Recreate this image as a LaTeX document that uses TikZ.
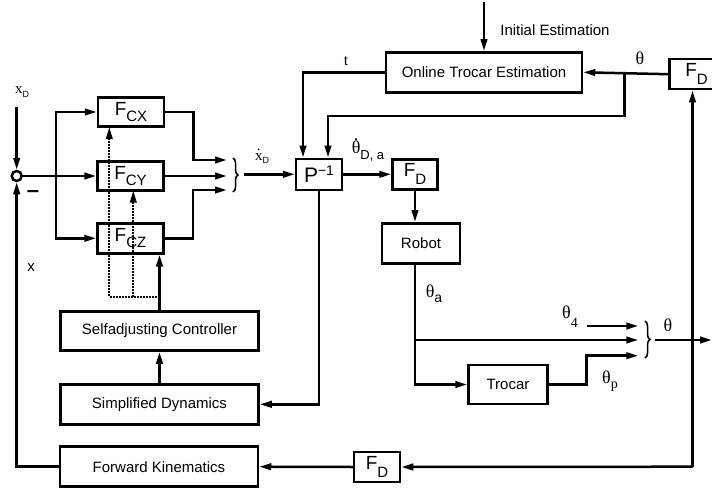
\documentclass[tikz,border=0pt]{standalone}
\usepackage{fontspec}
\setmainfont{Liberation Sans}
\setsansfont{Liberation Sans}
\newfontfamily\seriffont{Liberation Serif}
\usetikzlibrary{arrows.meta,decorations.pathreplacing}

% F with a lowered index, as used in the filter blocks
\newcommand{\Fblk}[2][-6pt]{{\fontsize{19}{19}\selectfont F}\raisebox{#1}{\fontsize{15}{15}\selectfont #2}}
% serif symbol with a lowered sans index
\newcommand{\sigl}[3][-5pt]{{\seriffont #2}\raisebox{#1}{\sffamily\fontsize{14}{14}\selectfont #3}}
% time derivative dot over a symbol
\newcommand{\dotop}[2]{{\ooalign{#1\cr\hidewidth\raisebox{#2}{.}\hidewidth\cr}}}

\begin{document}
\begin{tikzpicture}[x=1pt, y=-1pt, line width=2.5pt,
  block/.style={draw, inner sep=0pt, font=\fontsize{15}{18}\selectfont},
  arr/.style={-{Triangle[length=12pt,width=6.5pt]}},
  dotarr/.style={arr, line width=2pt, dash pattern=on 1.5pt off 1.5pt},
  lbl/.style={inner sep=0pt, font=\fontsize{18}{18}\selectfont},
  brc/.style={line width=1.5pt, decorate, decoration={brace, amplitude=5pt}}]
  \useasboundingbox (0,0) rectangle (712,490);

  % summing point and controller filters
  \node[draw, circle, minimum size=10pt, inner sep=0pt] (sum) at (16.7,176) {};
  \node[block, minimum width=66pt, minimum height=29pt] (fcx) at (131,112) {\Fblk{CX}};
  \node[block, minimum width=66pt, minimum height=29pt] (fcy) at (130.5,176) {\Fblk{CY}};
  \node[block, minimum width=66pt, minimum height=30pt] (fcz) at (130.5,238.3) {\Fblk{CZ}};

  % adaptation and feedback blocks
  \node[block, minimum width=198pt, minimum height=39pt] (ctrl) at (159.5,331) {Selfadjusting Controller};
  \node[block, minimum width=198pt, minimum height=40pt] (simdyn) at (159.5,404.3) {Simplified Dynamics};
  \node[block, minimum width=198pt, minimum height=40pt] (fwdkin) at (159,466.7) {Forward Kinematics};
  \node[block, minimum width=46pt, minimum height=30pt] (fdlow) at (377,467) {\Fblk[-8pt]{D}};

  % robot side
  \node[block, minimum width=46pt, minimum height=31pt] (pinv) at (319,174.3)
    {{\fontsize{21}{21}\selectfont P}\raisebox{7pt}{\fontsize{14}{14}\selectfont −1}};
  \node[block, minimum width=45pt, minimum height=30pt] (fdmid) at (415,174.3) {\Fblk[-8pt]{D}};
  \node[block, minimum width=78pt, minimum height=40pt] (robot) at (421,243.3) {Robot};
  \node[block, minimum width=79pt, minimum height=39pt] (trocar) at (508,384.5) {Trocar};
  \node[block, minimum width=196pt, minimum height=40pt] (online) at (484,72.3) {Online Trocar Estimation};
  \node[block, minimum width=54pt, minimum height=30pt] (fdtop) at (696.5,74.2) {\Fblk[-8pt]{D}\hspace{14pt}};

  % free ends and branch points
  \coordinate (xin) at (16.7,107);
  \coordinate (split) at (56,176);
  \coordinate (in1) at (227,160);
  \coordinate (in2) at (227,176);
  \coordinate (in3) at (227,190);
  \coordinate (bout) at (244,174.3);
  \coordinate (initin) at (484,2);
  \coordinate (thsplit) at (624.5,74.2);
  \coordinate (dotc) at (159.5,296.7);
  \coordinate (dotd) at (133.3,296.7);
  \coordinate (rsplit) at (415.7,340);
  \coordinate (th4) at (586.7,326);
  \coordinate (in4) at (638.3,326);
  \coordinate (in5) at (638.3,340);
  \coordinate (in6) at (638.3,355.7);
  \coordinate (thout) at (655,340);
  \coordinate (outend) at (712,340);
  \coordinate (corner) at (692.5,466.7);

  % input and filter paths
  \draw[arr] (xin) -- (sum);
  \draw[arr] (fwdkin.west) -| (sum.south);
  \draw[arr] (sum.east) -- (fcy.west);
  \draw[arr] (split) |- (fcx.west);
  \draw[arr] (split) |- (fcz.west);
  \draw[arr] (fcx.east) -- ++(28,0) |- (in1);
  \draw[arr] (fcy.east) -- (in2);
  \draw[arr] (fcz.east) -- ++(28,0) |- (in3);
  \draw[brc] (233,158) -- (233,192);
  \draw[arr] (bout) -- (pinv.west);

  % adaptation
  \draw[arr] (pinv.south) |- (simdyn.east);
  \draw[arr] (simdyn.north) -- (ctrl.south);
  \draw[arr] (ctrl.north) -- (ctrl.north |- fcz.south);
  \draw[dotarr] (dotc) -| (109.3,127);
  \draw[dotarr] (dotd) -- (133.3,190.5);

  % trocar estimation
  \draw[arr] (initin) -- (online.north);
  \draw[arr] (fdtop.west) -- (online.east);
  \draw[arr] (online.west) -| ([xshift=-16pt]pinv.north);
  \draw[arr] (thsplit) -- (624.5,116) -| ([xshift=9pt]pinv.north);

  % robot and joint angles
  \draw[arr] (pinv.east) -- (fdmid.west);
  \draw[arr] (fdmid.south) -- (fdmid.south |- robot.north);
  \draw[arr] (fdmid.south |- robot.south) |- (trocar.west);
  \draw[arr] (rsplit) -- (in5);
  \draw[arr] (trocar.east) -- ++(37.5,0) |- (in6);
  \draw[arr] (th4) -- (in4);
  \draw[brc] (645,321) -- (645,358);
  \draw[arr] (thout) -- (outend);

  % measured feedback
  \draw[arr] (corner) -- (corner |- fdtop.south);
  \draw[arr] (corner) -- (fdlow.east);
  \draw[arr] (fdlow.west) -- (fwdkin.east);

  % signal labels
  \node[lbl] (lxd) at (22,92) {{\seriffont\fontsize{15}{15}\selectfont x}\raisebox{-4pt}{\fontsize{9}{9}\selectfont D}};
  \node[lbl, font=\bfseries\fontsize{22}{22}\selectfont] (lminus) at (33,194) {–};
  \node[lbl, font=\fontsize{15}{15}\selectfont] (lx) at (31,268) {x};
  \node[lbl] (lxdot) at (262,159) {{\seriffont\fontsize{15}{15}\selectfont\dotop{x}{10pt}}\raisebox{-3pt}{\fontsize{9}{9}\selectfont D}};
  \node[lbl] (lt) at (346,61) {\seriffont\fontsize{16}{16}\selectfont t};
  \node[lbl] (lthd) at (368,151) {{\seriffont\dotop{θ}{13pt}}\raisebox{-6pt}{\fontsize{13}{13}\selectfont D, a}};
  \node[lbl] (lthtop) at (640,58) {\seriffont θ};
  \node[lbl] (ltha) at (434,294) {\sigl{θ}{a}};
  \node[lbl] (lth4) at (570,317) {\sigl[-9pt]{θ}{\seriffont 4}};
  \node[lbl] (lthp) at (610,381) {\sigl{θ}{\seriffont p}};
  \node[lbl] (lthout) at (668,325) {\seriffont θ};
  \node[lbl, font=\fontsize{15}{15}\selectfont] (linit) at (555,30) {Initial Estimation};
\end{tikzpicture}
\end{document}
